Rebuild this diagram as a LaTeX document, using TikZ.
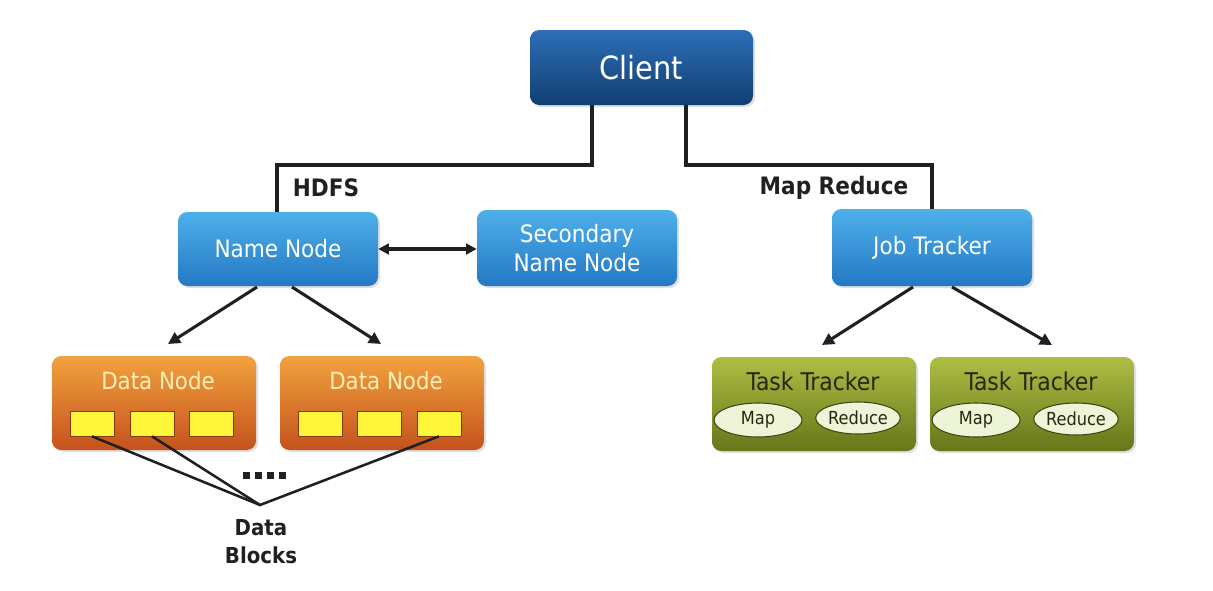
\documentclass[tikz,border=0pt]{standalone}
\usepackage{fontspec}
\setmainfont{DejaVu Sans Condensed}
\usetikzlibrary{arrows.meta,shadows,shapes.geometric}
\definecolor{cliTop}{HTML}{2C6FB8}
\definecolor{cliBot}{HTML}{123E70}
\definecolor{nnTop}{HTML}{4DB0EA}
\definecolor{nnBot}{HTML}{2578C4}
\definecolor{dnTop}{HTML}{F2A23E}
\definecolor{dnBot}{HTML}{C4521C}
\definecolor{ttTop}{HTML}{AEBE44}
\definecolor{ttBot}{HTML}{66761A}
\definecolor{blk}{HTML}{FFF53A}
\definecolor{ell}{HTML}{EEF4D8}
\definecolor{dntext}{HTML}{FFF0B8}
\definecolor{tttext}{HTML}{26280E}
\definecolor{linec}{HTML}{202020}
\tikzset{
  x=0.75pt,y=-0.75pt,
  box/.style={rounded corners=7pt,inner sep=0pt,drop shadow={shadow xshift=1.5pt,shadow yshift=-1.5pt,opacity=0.25}},
  cli/.style={box,top color=cliTop,bottom color=cliBot,text=white,font=\fontsize{24}{27}\selectfont},
  nn/.style={box,top color=nnTop,bottom color=nnBot,text=white,font=\fontsize{18}{20}\selectfont,align=center},
  dn/.style={box,top color=dnTop,bottom color=dnBot},
  tt/.style={box,top color=ttTop,bottom color=ttBot},
  blkbox/.style={fill=blk,draw=dnBot!70!black,line width=0.5pt},
  ellbox/.style={ellipse,fill=ell,draw=ttBot!60!black,line width=0.8pt,inner sep=0pt,font=\fontsize{13.5}{15}\selectfont,text=tttext},
  conn/.style={draw=linec,line width=2.8pt},
  arr/.style={draw=linec,line width=2.3pt,-{Triangle[length=9pt,width=9pt]}},
  lbl/.style={font=\bfseries\fontsize{18}{20}\selectfont,text=linec},
}
\begin{document}
\begin{tikzpicture}
\useasboundingbox (0,0) rectangle (1213,590);
\fill[white] (0,0) rectangle (1213,590);
% client
\node[cli,minimum width=223*0.75pt,minimum height=75*0.75pt] (client) at (641.5,67.5) {Client};
% name nodes
\node[nn,minimum width=200*0.75pt,minimum height=74*0.75pt] (nn) at (278,249) {Name Node};
\node[nn,minimum width=200*0.75pt,minimum height=76*0.75pt] (snn) at (577,248) {Secondary\\[2pt]Name Node};
\node[nn,minimum width=200*0.75pt,minimum height=77*0.75pt] (jt) at (932,247.5) {Job Tracker};
% connectors from client
\coordinate (cl) at (592,105);
\coordinate (cr) at (686,105);
\draw[conn] (cl) |- (277,165) -- (nn.north -| 277,0);
\draw[conn] (cr) |- (932,165) -- (jt.north);
\node[lbl] (hdfs) at (326,188) {HDFS};
\node[lbl] (mr) at (834,188) {Map Reduce};
\draw[draw=linec,line width=2.6pt,{Triangle[length=8pt,width=8pt]}-{Triangle[length=8pt,width=8pt]}] (nn.east) -- (snn.west |- nn.east);
% data nodes
\node[dn,minimum width=204*0.75pt,minimum height=94*0.75pt] (dn1) at (154,403) {};
\node[dn,minimum width=204*0.75pt,minimum height=94*0.75pt] (dn2) at (382,403) {};
\node[text=dntext,font=\fontsize{17.8}{20}\selectfont] (dn1t) at (158,381) {Data Node};
\node[text=dntext,font=\fontsize{17.8}{20}\selectfont] (dn2t) at (386,381) {Data Node};
\foreach \n/\cx in {a/92,b/152,c/211,d/320,e/379,f/439}{
  \node[blkbox,minimum width=44*0.75pt,minimum height=25*0.75pt,inner sep=0pt] (b\n) at (\cx,423.5) {};
}
\draw[arr] (257,287) -- (168,344);
\draw[arr] (292,287) -- (381,344);
% data blocks
\coordinate (dbj) at (260,505);
\draw[line width=1.9pt,draw=linec] (ba.south) -- (dbj) -- (bf.south);
\draw[line width=1.9pt,draw=linec] (bb.south) -- (dbj);
\foreach \dx in {243,255,267,279}{\fill[linec] (\dx,472) rectangle ++(7,7);}
\node[lbl,align=center,font=\bfseries\fontsize{16.5}{20}\selectfont] (db) at (261,542) {Data\\[1pt]Blocks};
% task trackers
\node[tt,minimum width=204*0.75pt,minimum height=94*0.75pt] (tt1) at (814,404) {};
\node[tt,minimum width=204*0.75pt,minimum height=94*0.75pt] (tt2) at (1032,404) {};
\node[text=tttext,font=\fontsize{18.3}{20}\selectfont] (tt1t) at (813,381) {Task Tracker};
\node[text=tttext,font=\fontsize{18.3}{20}\selectfont] (tt2t) at (1031,381) {Task Tracker};
\node[ellbox,minimum width=88*0.75pt,minimum height=34*0.75pt] (m1) at (758,420) {Map};
\node[ellbox,minimum width=78*0.75pt,minimum height=32*0.75pt] (r1) at (858,418) {Reduce};
\node[ellbox,minimum width=88*0.75pt,minimum height=34*0.75pt] (m2) at (976,420) {Map};
\node[ellbox,minimum width=78*0.75pt,minimum height=32*0.75pt] (r2) at (1076,419) {Reduce};
\draw[arr] (913,287) -- (822,345);
\draw[arr] (952,287) -- (1052,345);
\end{tikzpicture}
\end{document}
